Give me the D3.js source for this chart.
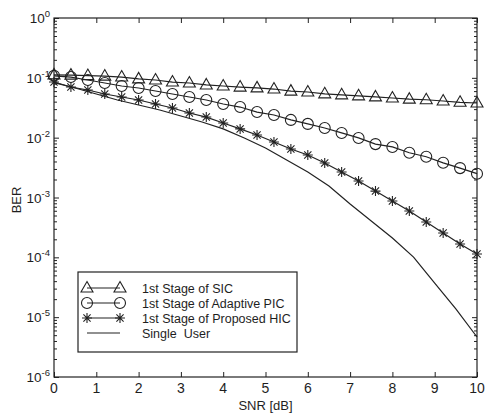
<!DOCTYPE html>
<html>
<head>
<meta charset="utf-8">
<script src="https://cdn.jsdelivr.net/npm/d3@7"></script>
<style>
  body { margin: 0; background: #fff; }
  svg { display: block; }
  text { font-family: "Liberation Sans", Arial, sans-serif; fill: #1e1e1e; }
</style>
</head>
<body>
<svg id="chart" width="489" height="415"></svg>
<script>
  // SNR points where the marked curves were simulated
  const snrMarked = [0, 0.4, 0.8, 1.2, 1.6, 2.0, 2.4, 2.8, 3.2, 3.6, 4.0, 4.4, 4.8,
                     5.2, 5.6, 6.0, 6.4, 6.8, 7.2, 7.6, 8.0, 8.4, 8.8, 9.2, 9.6, 10];
  const berSIC = [0.112, 0.111, 0.109, 0.107, 0.103, 0.096, 0.092, 0.085, 0.082, 0.076,
                  0.073, 0.070, 0.068, 0.065, 0.060, 0.058, 0.054, 0.052, 0.050, 0.048,
                  0.046, 0.044, 0.043, 0.041, 0.039, 0.038];
  const berPIC = [0.108, 0.103, 0.092, 0.082, 0.073, 0.0676, 0.0602, 0.0537, 0.0478, 0.0426,
                  0.0365, 0.0325, 0.0268, 0.0239, 0.0198, 0.0170, 0.0145, 0.0120, 0.0099, 0.0078,
                  0.0070, 0.0056, 0.0048, 0.0038, 0.0031, 0.0025];
  const berHIC = [0.0852, 0.0703, 0.0626, 0.0537, 0.0478, 0.0426, 0.0365, 0.0313, 0.0258, 0.0221,
                  0.0176, 0.0140, 0.0111, 0.00846, 0.00646, 0.00513, 0.00377, 0.00267, 0.00189, 0.00128,
                  0.000873, 0.000594, 0.000389, 0.000255, 0.000167, 0.000114];
  // single user bound, plain line
  const snrSingle = [0, 0.5, 1, 1.5, 2, 2.5, 3, 3.5, 4, 4.5, 5, 5.5, 6, 6.5, 7, 7.5, 8, 8.5, 9, 9.5, 10];
  const berSingle = [0.083, 0.0676, 0.0537, 0.0426, 0.0351, 0.0290, 0.0230, 0.0183, 0.0140, 0.00987,
                     0.00672, 0.00423, 0.00267, 0.00156, 0.000778, 0.000405, 0.000210, 0.000101,
                     0.0000372, 0.0000137, 0.00000466];

  const xTicks = [0, 1, 2, 3, 4, 5, 6, 7, 8, 9, 10];
  const yExponents = [0, -1, -2, -3, -4, -5, -6];
  const legendLabels = ['1st Stage of SIC', '1st Stage of Adaptive PIC',
                        '1st Stage of Proposed HIC', 'Single  User'];

  const PLOT = {left: 54, right: 477, top: 18, bottom: 377};
  const INK = '#222';

  const x = d3.scaleLinear().domain([0, 10]).range([PLOT.left, PLOT.right]);
  const y = d3.scaleLog().domain([1e-6, 1]).range([PLOT.bottom, PLOT.top]);

  const svg = d3.select('#chart');

  // minor log ticks 2..9 per decade
  const minorTicks = [];
  yExponents.slice(1).forEach(e => {
    for (let m = 2; m <= 9; m++) minorTicks.push(m * Math.pow(10, e));
  });
  const majorTicks = yExponents.map(e => Math.pow(10, e));

  function strip(g) {
    g.select('.domain').remove();
    g.selectAll('line').attr('stroke', INK);
    g.selectAll('text').remove();
  }

  // x ticks, bottom and top, pointing inward
  svg.append('g').attr('transform', `translate(0,${PLOT.bottom})`)
    .call(d3.axisBottom(x).tickValues(xTicks).tickSize(-5)).call(strip);
  svg.append('g').attr('transform', `translate(0,${PLOT.top})`)
    .call(d3.axisTop(x).tickValues(xTicks).tickSize(-5)).call(strip);

  // y ticks, left and right
  svg.append('g').attr('transform', `translate(${PLOT.left},0)`)
    .call(d3.axisLeft(y).tickValues(majorTicks).tickSize(-5)).call(strip);
  svg.append('g').attr('transform', `translate(${PLOT.left},0)`)
    .call(d3.axisLeft(y).tickValues(minorTicks).tickSize(-3)).call(strip);
  svg.append('g').attr('transform', `translate(${PLOT.right},0)`)
    .call(d3.axisRight(y).tickValues(majorTicks).tickSize(-5)).call(strip);
  svg.append('g').attr('transform', `translate(${PLOT.right},0)`)
    .call(d3.axisRight(y).tickValues(minorTicks).tickSize(-3)).call(strip);

  // frame
  svg.append('rect')
    .attr('x', PLOT.left).attr('y', PLOT.top)
    .attr('width', PLOT.right - PLOT.left).attr('height', PLOT.bottom - PLOT.top)
    .attr('fill', 'none').attr('stroke', INK).attr('stroke-width', 1.2);

  // x tick labels
  svg.selectAll('.xlab')
    .data(xTicks)
    .enter().append('text')
    .attr('x', d => x(d))
    .attr('y', PLOT.bottom + 16)
    .attr('text-anchor', 'middle')
    .attr('font-size', 14)
    .text(d => d);

  // y tick labels 10^n
  const ylab = svg.selectAll('.ylab')
    .data(yExponents)
    .enter().append('text')
    .attr('x', PLOT.left - 4)
    .attr('y', d => y(Math.pow(10, d)) + 5)
    .attr('text-anchor', 'end')
    .attr('font-size', 13.5);
  ylab.append('tspan').text('10');
  ylab.append('tspan').attr('dy', -6).attr('font-size', 9.5).text(d => d);

  svg.append('text')
    .attr('x', x(5))
    .attr('y', 410)
    .attr('text-anchor', 'middle')
    .attr('font-size', 13)
    .text('SNR [dB]');

  svg.append('text')
    .attr('transform', 'translate(21,200) rotate(-90)')
    .attr('text-anchor', 'middle')
    .attr('font-size', 13)
    .text('BER');

  // markers
  const triangle = 'M0,-6.5L6,4L-6,4Z';
  const star = 'M-5,0L5,0M0,-5L0,5M-3.6,-3.6L3.6,3.6M-3.6,3.6L3.6,-3.6';

  function drawMarker(g, kind) {
    if (kind === 'tri') g.append('path').attr('d', triangle);
    else if (kind === 'circ') g.append('circle').attr('r', 5.5);
    else if (kind === 'star') g.append('path').attr('d', star);
  }

  const series = [
    {xs: snrMarked, ys: berSIC, marker: 'tri'},
    {xs: snrMarked, ys: berPIC, marker: 'circ'},
    {xs: snrMarked, ys: berHIC, marker: 'star'},
    {xs: snrSingle, ys: berSingle, marker: null}
  ];

  const line = d3.line().x(d => x(d[0])).y(d => y(d[1]));
  const plot = svg.append('g');

  series.forEach(s => {
    const pts = s.xs.map((v, i) => [v, s.ys[i]]);
    plot.append('path')
      .datum(pts)
      .attr('d', line)
      .attr('fill', 'none')
      .attr('stroke', INK)
      .attr('stroke-width', 1.2);
    if (s.marker) {
      plot.selectAll(null)
        .data(pts)
        .enter().append('g')
        .attr('transform', d => `translate(${x(d[0])},${y(d[1])})`)
        .attr('fill', 'none')
        .attr('stroke', INK)
        .attr('stroke-width', 1.1)
        .each(function() { drawMarker(d3.select(this), s.marker); });
    }
  });

  // legend
  const legend = svg.append('g');
  legend.append('rect')
    .attr('x', 78).attr('y', 272).attr('width', 219).attr('height', 80)
    .attr('fill', '#fff').attr('stroke', INK).attr('stroke-width', 1.2);

  const rows = legend.selectAll('.row')
    .data(series)
    .enter().append('g')
    .attr('transform', (d, i) => `translate(0,${288 + i * 15})`);

  rows.append('line')
    .attr('x1', 87).attr('x2', 120)
    .attr('stroke', INK).attr('stroke-width', 1.2);

  rows.each(function(d) {
    if (!d.marker) return;
    [87, 120].forEach(px => {
      const g = d3.select(this).append('g')
        .attr('transform', `translate(${px},0)`)
        .attr('fill', 'none').attr('stroke', INK).attr('stroke-width', 1.1);
      drawMarker(g, d.marker);
    });
  });

  rows.append('text')
    .attr('x', 142)
    .attr('y', 4.5)
    .attr('font-size', 12.5)
    .style('white-space', 'pre')
    .text((d, i) => legendLabels[i]);
</script>
</body>
</html>
